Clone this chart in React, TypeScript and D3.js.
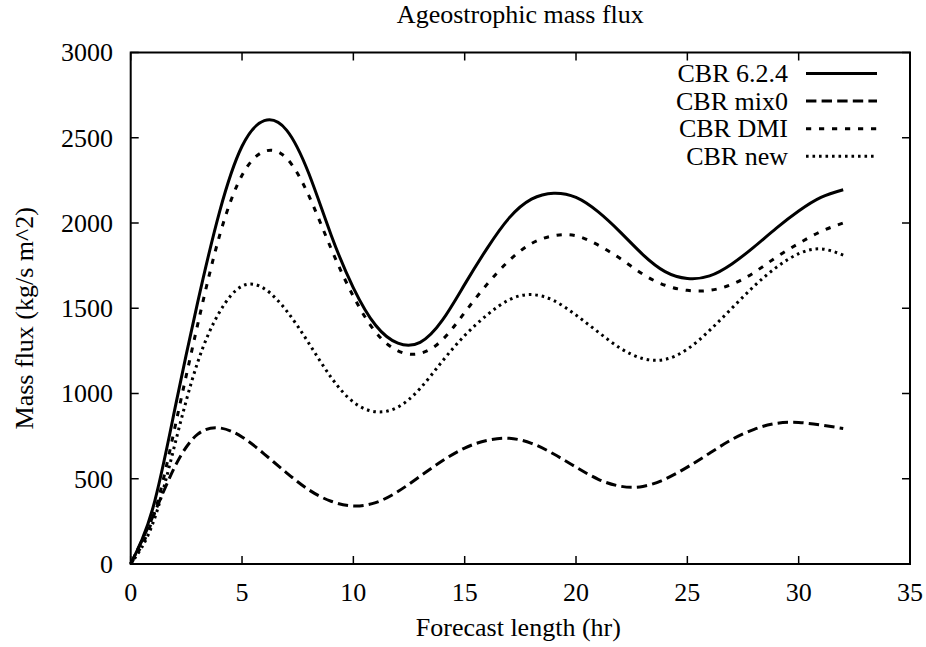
import React from 'react';
import * as d3 from 'd3';

const HOURS = d3.range(0, 33);

const CBR_624 = [0, 330, 920, 1530, 2070, 2450, 2600, 2545, 2290, 1930, 1620, 1400, 1295, 1300, 1430, 1640, 1850, 2030, 2140, 2175, 2150, 2065, 1945, 1815, 1715, 1675, 1690, 1760, 1860, 1970, 2070, 2150, 2195];
const CBR_MIX0 = [0, 280, 575, 760, 798, 745, 645, 535, 435, 368, 340, 360, 425, 515, 605, 680, 725, 737, 708, 645, 568, 497, 456, 455, 498, 568, 650, 730, 790, 825, 830, 815, 795];
const CBR_DMI = [0, 270, 810, 1400, 1930, 2280, 2420, 2380, 2160, 1850, 1570, 1360, 1250, 1235, 1315, 1475, 1640, 1780, 1880, 1925, 1925, 1870, 1790, 1700, 1635, 1605, 1605, 1640, 1710, 1800, 1880, 1950, 2000];
const CBR_NEW = [0, 240, 710, 1180, 1480, 1630, 1615, 1485, 1295, 1095, 950, 893, 920, 1030, 1190, 1340, 1460, 1550, 1580, 1545, 1460, 1360, 1265, 1205, 1200, 1260, 1370, 1500, 1630, 1740, 1820, 1848, 1812];

const SERIES_NAMES = ['CBR 6.2.4', 'CBR mix0', 'CBR DMI', 'CBR new'];
const SERIES_VALUES = [CBR_624, CBR_MIX0, CBR_DMI, CBR_NEW];
const DASHES = ['none', '10.4,5.2', '5.2,7.8', '2.6,3.9'];

const X_TICKS = [0, 5, 10, 15, 20, 25, 30, 35];
const Y_TICKS = [0, 500, 1000, 1500, 2000, 2500, 3000];

const width = 926;
const height = 647;
const left = 130.7;
const right = 910;
const top = 52.5;
const bottom = 564;
const tickLen = 8;
const font = '"Liberation Serif", "DejaVu Serif", serif';
const fs = 26;

const x = d3.scaleLinear().domain([0, 35]).range([left, right]);
const y = d3.scaleLinear().domain([0, 3000]).range([bottom, top]);

const line = d3.line<number>()
  .x((d, i) => x(HOURS[i]))
  .y(d => y(d))
  .curve(d3.curveNatural);

export default function App() {
  return (
    <svg width={width} height={height} style={{ position: 'fixed', left: 0, top: 0, background: '#fff' }}
      fontFamily={font} fontSize={fs}>
      <rect width={width} height={height} fill="#fff" />
      <text x={(left + right) / 2} y={23} textAnchor="middle">Ageostrophic mass flux</text>

      {/* ticks, mirrored and pointing inward */}
      <g stroke="#000" strokeWidth={1.5}>
        {X_TICKS.map(t => (
          <g key={'x' + t}>
            <line x1={x(t)} x2={x(t)} y1={bottom} y2={bottom - tickLen} />
            <line x1={x(t)} x2={x(t)} y1={top} y2={top + tickLen} />
          </g>
        ))}
        {Y_TICKS.map(t => (
          <g key={'y' + t}>
            <line x1={left} x2={left + tickLen} y1={y(t)} y2={y(t)} />
            <line x1={right} x2={right - tickLen} y1={y(t)} y2={y(t)} />
          </g>
        ))}
      </g>
      {X_TICKS.map(t => (
        <text key={'xl' + t} x={x(t)} y={601} textAnchor="middle">{t}</text>
      ))}
      {Y_TICKS.map(t => (
        <text key={'yl' + t} x={113} y={y(t) + 8.8} textAnchor="end">{t}</text>
      ))}

      <text x={(left + right) / 2 - 2} y={636} textAnchor="middle">Forecast length (hr)</text>
      <text transform={`translate(33,${(top + bottom) / 2 + 10}) rotate(-90)`} textAnchor="middle">Mass flux (kg/s m^2)</text>

      {SERIES_VALUES.map((vals, i) => (
        <path key={'s' + i} d={line(vals) || ''} fill="none" stroke="#000" strokeWidth={3}
          strokeDasharray={DASHES[i]} />
      ))}

      {SERIES_NAMES.map((name, i) => {
        const ry = 73.5 + i * 27.6;
        return (
          <g key={'lg' + i}>
            <text x={788} y={ry + 8.6} textAnchor="end">{name}</text>
            <line x1={806} x2={877} y1={ry} y2={ry} stroke="#000" strokeWidth={3} strokeDasharray={DASHES[i]} />
          </g>
        );
      })}

      <rect x={left} y={top} width={right - left} height={bottom - top} fill="none" stroke="#000" strokeWidth={2} />
    </svg>
  );
}
